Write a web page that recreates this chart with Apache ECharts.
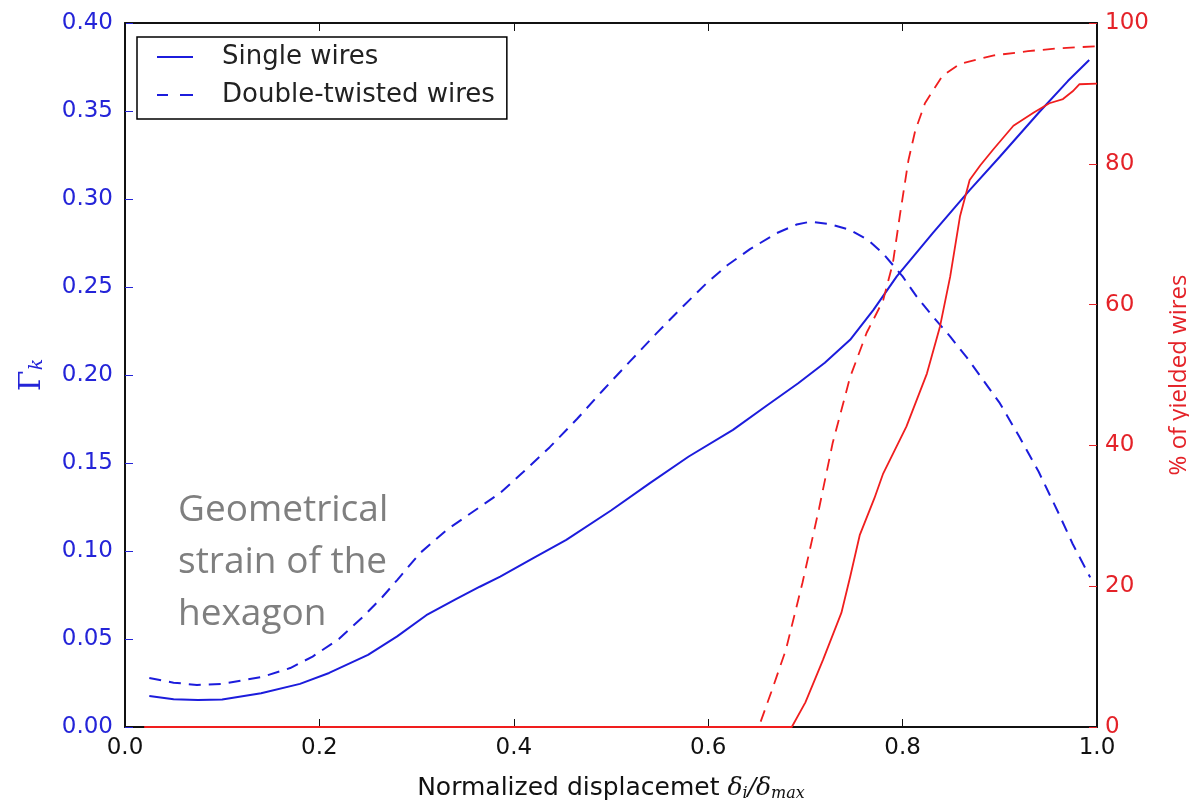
<!DOCTYPE html>
<html>
<head>
<meta charset="utf-8">
<script src="https://cdn.jsdelivr.net/npm/echarts@6/dist/echarts.min.js"></script>
<style>
html,body{margin:0;padding:0;background:#fff;}
#chart{width:1189px;height:801px;}
</style>
</head>
<body>
<div id="chart"></div>
<script>
// ---- data ----
var xTicks = [0.0, 0.2, 0.4, 0.6, 0.8, 1.0];
var leftTicks = [0.00, 0.05, 0.10, 0.15, 0.20, 0.25, 0.30, 0.35, 0.40];
var rightTicks = [0, 20, 40, 60, 80, 100];

var singleX = [0.025,0.05,0.075,0.10,0.14,0.18,0.21,0.25,0.28,0.31,0.34,0.365,0.386,0.42,0.454,0.50,0.54,0.58,0.6255,0.66,0.6926,0.72,0.746,0.77,0.794,0.831,0.869,0.90,0.94,0.97,0.992];
var singleY = [0.0176,0.0158,0.0153,0.0156,0.0192,0.0245,0.0307,0.041,0.0515,0.0635,0.0725,0.0797,0.0854,0.096,0.1063,0.123,0.1386,0.1537,0.1688,0.1825,0.1953,0.207,0.22,0.237,0.256,0.2806,0.305,0.324,0.349,0.367,0.379];

var doubleX = [0.025,0.05,0.074,0.10,0.142,0.17,0.193,0.22,0.245,0.265,0.28,0.3035,0.331,0.365,0.386,0.41,0.437,0.465,0.492,0.52,0.547,0.575,0.598,0.62,0.643,0.67,0.691,0.705,0.725,0.746,0.765,0.78,0.80,0.8145,0.83,0.849,0.866,0.883,0.90,0.92,0.94,0.96,0.975,0.993];
var doubleY = [0.0278,0.0252,0.0239,0.0245,0.0286,0.0335,0.040,0.050,0.0627,0.074,0.0835,0.0988,0.112,0.125,0.133,0.145,0.159,0.175,0.1915,0.208,0.2238,0.2395,0.252,0.2625,0.2715,0.2805,0.2855,0.2871,0.2858,0.2824,0.2765,0.269,0.256,0.2445,0.234,0.2218,0.210,0.197,0.184,0.165,0.145,0.122,0.104,0.085];

var yieldSingleX = [0.02,0.3,0.686,0.70,0.718,0.737,0.746,0.756,0.771,0.780,0.804,0.825,0.8385,0.849,0.859,0.869,0.880,0.893,0.914,0.935,0.951,0.965,0.975,0.982,1.0];
var yieldSingleP = [0,0,0,3.5,9.5,16.2,21.3,27.3,32.5,36,42.7,50.2,56.9,64,72.5,77.7,79.8,82,85.4,87.3,88.6,89.2,90.3,91.3,91.4];

var yieldDoubleX = [0.02,0.3,0.652,0.665,0.68,0.697,0.714,0.728,0.746,0.763,0.78,0.790,0.797,0.806,0.813,0.823,0.841,0.859,0.894,0.929,0.96,1.0];
var yieldDoubleP = [0,0,0,5,11,20.5,31,40.3,49.7,56,60.6,65.9,72.5,80.5,84.7,88.6,92.5,94.2,95.4,96,96.4,96.7];

var seriesNames = ['Single wires', 'Double-twisted wires'];
var annotationLines = ['Geometrical', 'strain of the', 'hexagon'];

function pairs(xs, ys){ return xs.map(function(x,i){ return [x, ys[i]]; }); }

var BLUE = '#1c1cdc';
var BLUE_TXT = '#2424d8';
var RED = '#f01e1e';
var RED_TXT = '#e42228';

var chart = echarts.init(document.getElementById('chart'), null, {renderer:'canvas'});
var option = {
  backgroundColor: '#ffffff',
  animation: false,
  grid: {left: 125, right: 92, top: 23, bottom: 74, containLabel: false, outerBoundsMode: 'none'},
  legend: {
    data: [
      {name: seriesNames[0], icon: 'path://M0,0h36v2h-36z'},
      {name: seriesNames[1], icon: 'path://M0,0h11v2h-11z M23,0h13v2h-13z'}
    ],
    orient: 'vertical',
    left: 137, top: 37,
    padding: [5, 12, 9, 20],
    itemGap: 8,
    itemWidth: 36,
    itemHeight: 2,
    backgroundColor: '#ffffff',
    borderColor: '#000000',
    borderWidth: 1.5,
    borderRadius: 0,
    textStyle: {fontFamily: 'DejaVu Sans', fontSize: 26, color: '#222222', lineHeight: 30, padding: [0,0,0,24]}
  },
  xAxis: [{
    type: 'value', position: 'bottom', min: 0, max: 1, interval: 0.2,
    axisLine: {show: true, onZero: false, lineStyle: {color: '#111', width: 2}},
    axisTick: {show: true, inside: true, length: 8, lineStyle: {color: '#111', width: 1}},
    axisLabel: {fontFamily: 'DejaVu Sans', fontSize: 23, color: '#111', margin: 10,
      formatter: function(v){ return v.toFixed(1); }},
    splitLine: {show: false},
    name: '{n|Normalized displacemet }{m|δ}{s|i}{m|/δ}{s|max}',
    nameLocation: 'middle', nameGap: 47,
    nameTextStyle: {fontFamily: 'DejaVu Sans', fontSize: 25, color: '#111',
      rich: {
        n: {fontFamily: 'DejaVu Sans', fontSize: 25, color: '#111'},
        m: {fontFamily: 'DejaVu Serif', fontStyle: 'italic', fontSize: 25, color: '#111'},
        s: {fontFamily: 'DejaVu Serif', fontStyle: 'italic', fontSize: 16, color: '#111', padding: [12,0,0,0]}
      }}
  }, {
    type: 'value', position: 'top', min: 0, max: 1, interval: 0.2,
    axisLine: {show: true, onZero: false, lineStyle: {color: '#111', width: 2}},
    axisTick: {show: true, inside: true, length: 8, lineStyle: {color: '#111', width: 1}},
    axisLabel: {show: false},
    splitLine: {show: false}
  }],
  yAxis: [{
    type: 'value', position: 'left', min: 0, max: 0.4, interval: 0.05,
    axisLine: {show: true, onZero: false, lineStyle: {color: '#111', width: 2}},
    axisTick: {show: true, inside: true, length: 8, lineStyle: {color: BLUE_TXT, width: 1}},
    axisLabel: {fontFamily: 'DejaVu Sans', fontSize: 23, color: BLUE_TXT, margin: 12,
      formatter: function(v){ return v.toFixed(2); }},
    splitLine: {show: false},
    name: '{g|Γ}{k|k}',
    nameLocation: 'middle', nameGap: 78, nameRotate: 90,
    nameTextStyle: {color: BLUE_TXT,
      rich: {
        g: {fontFamily: 'DejaVu Serif', fontSize: 30, color: BLUE_TXT},
        k: {fontFamily: 'DejaVu Serif', fontStyle: 'italic', fontSize: 19, color: BLUE_TXT, padding: [10,0,0,0]}
      }}
  }, {
    type: 'value', position: 'right', min: 0, max: 100, interval: 20,
    axisLine: {show: true, onZero: false, lineStyle: {color: '#111', width: 2}},
    axisTick: {show: true, inside: true, length: 8, lineStyle: {color: RED_TXT, width: 1}},
    axisLabel: {fontFamily: 'DejaVu Sans', fontSize: 23, color: RED_TXT, margin: 8},
    splitLine: {show: false},
    name: '% of yielded wires',
    nameLocation: 'middle', nameGap: 70, nameRotate: 90,
    nameTextStyle: {fontFamily: 'Open Sans', fontSize: 24, color: RED_TXT}
  }],
  series: [{
    name: seriesNames[0], type: 'line', xAxisIndex: 0, yAxisIndex: 0,
    data: pairs(singleX, singleY), symbol: 'none', smooth: false,
    lineStyle: {color: BLUE, width: 2, type: 'solid'}, itemStyle: {color: BLUE}, z: 3
  }, {
    name: seriesNames[1], type: 'line', xAxisIndex: 0, yAxisIndex: 0,
    data: pairs(doubleX, doubleY), symbol: 'none', smooth: false,
    lineStyle: {color: BLUE, width: 2, type: [12, 8]}, itemStyle: {color: BLUE}, z: 3
  }, {
    name: 'Yielded single', type: 'line', xAxisIndex: 0, yAxisIndex: 1,
    data: pairs(yieldSingleX, yieldSingleP), symbol: 'none', smooth: false,
    lineStyle: {color: RED, width: 1.8, type: 'solid'}, itemStyle: {color: RED}, z: 4
  }, {
    name: 'Yielded double', type: 'line', xAxisIndex: 0, yAxisIndex: 1,
    data: pairs(yieldDoubleX, yieldDoubleP), symbol: 'none', smooth: false,
    lineStyle: {color: RED, width: 1.8, type: [12, 8]}, itemStyle: {color: RED}, z: 4
  }],
  graphic: [{
    type: 'text', left: 178, top: 484, z: 10,
    style: {
      text: annotationLines.join('\n'),
      fontFamily: 'Open Sans', fontSize: 37, lineHeight: 52,
      fill: '#7f7f7f'
    }
  }]
};
chart.setOption(option);
</script>
</body>
</html>
